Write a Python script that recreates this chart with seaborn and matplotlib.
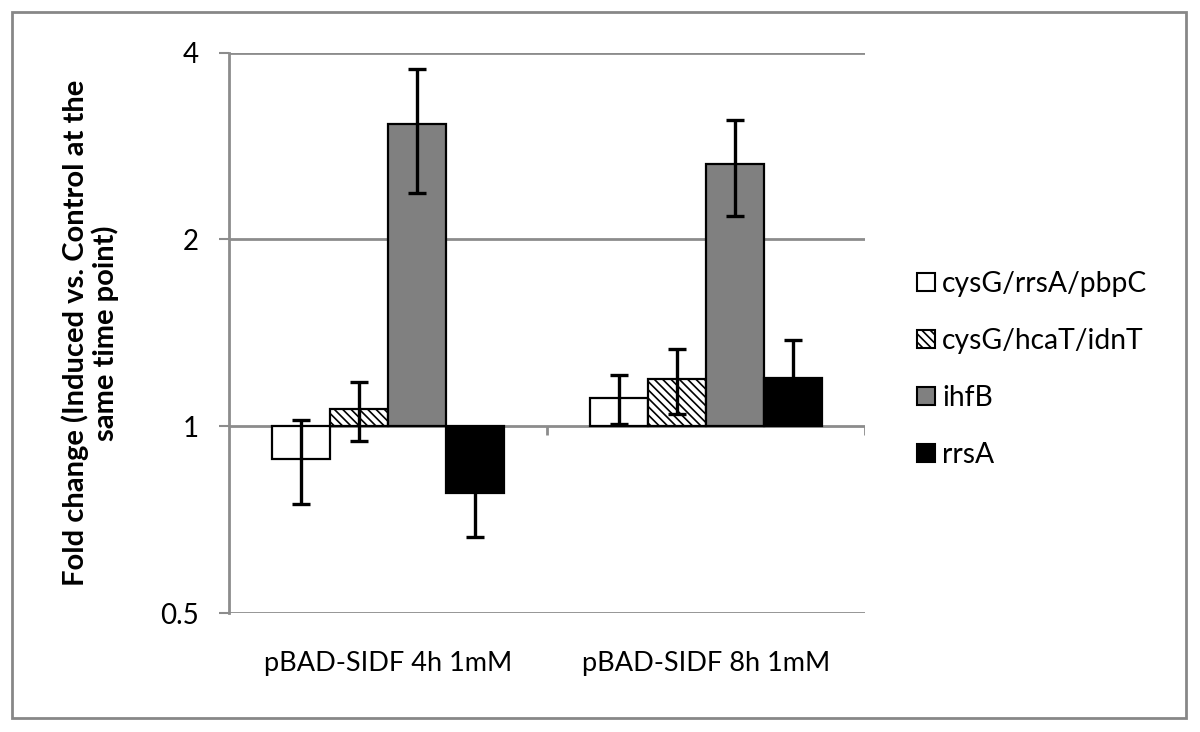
import numpy as np
import pandas as pd
import matplotlib
matplotlib.use("Agg")
import matplotlib.pyplot as plt
from matplotlib.patches import Patch, Rectangle
import seaborn as sns

# ---- data (fold change) ----
groups = ["pBAD-SIDF 4h 1mM", "pBAD-SIDF 8h 1mM"]
genes = ["cysG/rrsA/pbpC", "cysG/hcaT/idnT", "ihfB", "rrsA"]
fold_4h = [0.886, 1.065, 3.07, 0.781]
fold_8h = [1.111, 1.19, 2.65, 1.196]
low_4h = [0.749, 0.948, 2.38, 0.662]
high_4h = [1.022, 1.18, 3.76, 0.90]
low_8h = [1.008, 1.048, 2.18, 1.05]
high_8h = [1.21, 1.33, 3.12, 1.376]
ytick_values = [0.5, 1, 2, 4]
ytick_labels = ["0.5", "1", "2", "4"]

colors = ["#ffffff", "#ffffff", "#808080", "#000000"]
hatches = [None, "\\\\\\\\", None, None]
GRID = "#8c8c8c"

sns.set_theme(style="white")
plt.rcParams["font.family"] = ["Lato", "DejaVu Sans"]
plt.rcParams["hatch.linewidth"] = 1.2

df = pd.DataFrame({
    "group": np.repeat(groups, len(genes)),
    "gene": genes * len(groups),
    "fold": fold_4h + fold_8h,
})
df["log2fold"] = np.log2(df["fold"])

fig = plt.figure(figsize=(12, 7.32), dpi=100)
ax = fig.add_axes([229 / 1200, 1 - 613 / 732, 636 / 1200, 560.3 / 732])

sns.barplot(data=df, x="group", y="log2fold", hue="gene", hue_order=genes,
            palette=colors, width=0.73, edgecolor="black", linewidth=1.6,
            legend=False, ax=ax, zorder=3)

bar_containers = list(ax.containers)
for i, cont in enumerate(bar_containers):
    for p in cont.patches:
        p.set_edgecolor("black")
        p.set_facecolor(colors[i])
        if hatches[i]:
            p.set_hatch(hatches[i])

# error bars
fold_all = [fold_4h, fold_8h]
low_all = [low_4h, low_8h]
high_all = [high_4h, high_8h]
for i, cont in enumerate(bar_containers):
    for j, p in enumerate(cont.patches):
        xc = p.get_x() + p.get_width() / 2
        v = np.log2(fold_all[j][i])
        lo = np.log2(low_all[j][i])
        hi = np.log2(high_all[j][i])
        ax.errorbar([xc], [v], yerr=[[v - lo], [hi - v]], fmt="none",
                    ecolor="black", elinewidth=2.4, capsize=6.5,
                    capthick=2.4, zorder=4)

ax.set_ylim(-1, 2)
ax.set_xlim(-0.5, 1.5)
ax.set_yticks(np.log2(ytick_values))
ax.set_yticklabels(ytick_labels)

# gridlines and axis at 1
for yv in np.log2(ytick_values):
    ax.axhline(yv, color=GRID, lw=2, zorder=1)
ax.vlines([0.5, 1.5], -0.045, 0, color=GRID, lw=2, zorder=1)

for s in ["top", "right", "bottom"]:
    ax.spines[s].set_visible(False)
ax.spines["left"].set_color(GRID)
ax.spines["left"].set_linewidth(2)

ax.tick_params(axis="y", length=7.5, width=1.5, color=GRID, pad=14,
               labelsize=20, left=True, labelcolor="black")
ax.tick_params(axis="x", length=0, pad=27, labelsize=19.5, labelcolor="black")
ax.set_xlabel("")
ax.set_ylabel("Fold change (Induced vs. Control at the\nsame time point)",
              fontsize=21, fontweight="bold", color="black", va="center",
              multialignment="center", linespacing=1.1)
ax.yaxis.set_label_coords(-0.218, 0.5)

handles = [Patch(facecolor=colors[i], edgecolor="black", hatch=hatches[i],
                 linewidth=1.5, label=genes[i]) for i in range(len(genes))]
fig.legend(handles=handles, loc="center left",
           bbox_to_anchor=(892 / 1200, 1 - 369.5 / 732), frameon=False,
           fontsize=20.3, labelspacing=1.1, handlelength=0.63,
           handleheight=0.63, handletextpad=0.25, labelcolor="black")

# outer chart frame
fig.patches.append(Rectangle((12 / 1200, 14 / 732), 1174 / 1200, 706 / 732,
                             transform=fig.transFigure, fill=False,
                             edgecolor="#878787", lw=2))

fig.savefig("out.png", dpi=100, facecolor="white")
